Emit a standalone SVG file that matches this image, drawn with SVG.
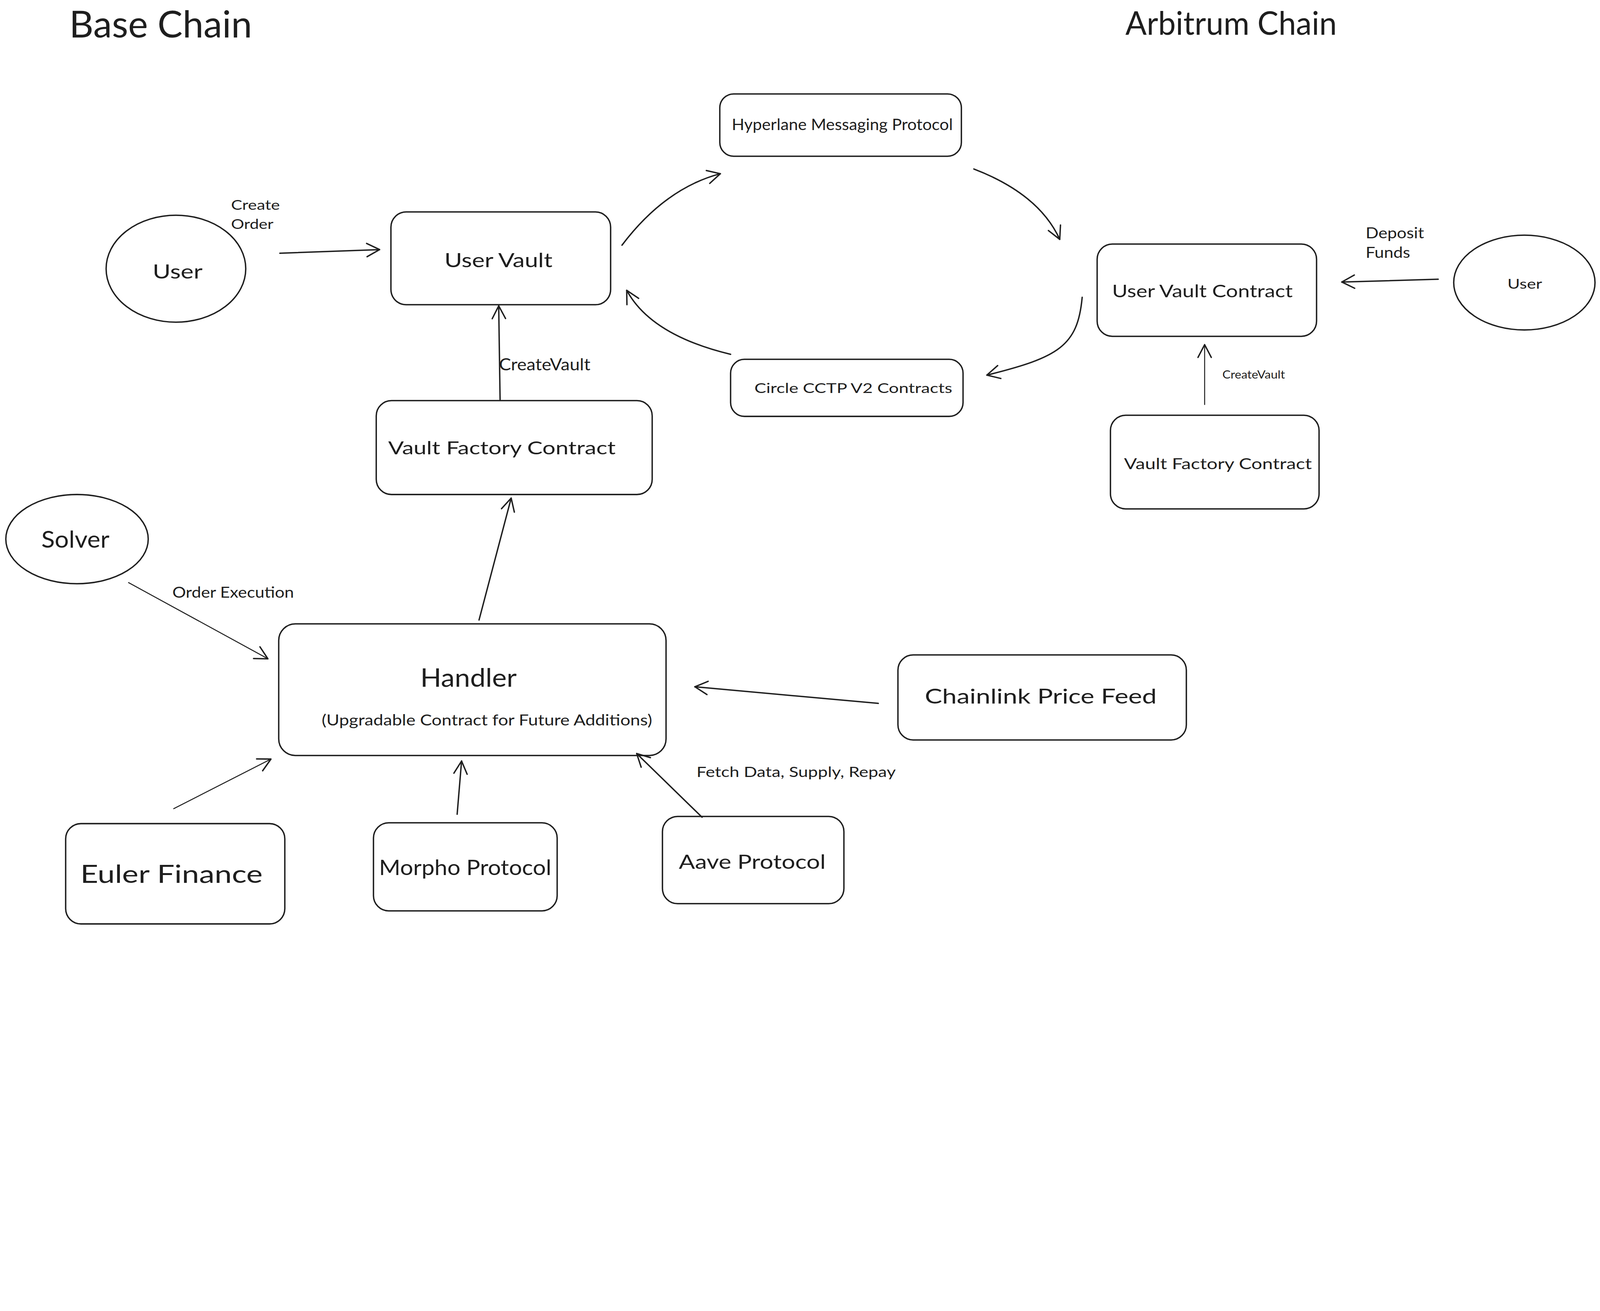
<svg xmlns="http://www.w3.org/2000/svg" width="5775" height="3356" viewBox="0 0 5775 3356">
<style>
svg{max-width:100vw;height:auto}
.box{fill:none;stroke:#1e1e1e;stroke-width:5;stroke-linejoin:round}
.con{fill:none;stroke:#1e1e1e;stroke-width:5;stroke-linecap:round;marker-end:url(#ah)}
.thin{stroke-width:3.5}
text{font-family:Lato,"Liberation Sans","Noto Sans",sans-serif;fill:#1e1e1e}
</style>
<defs>
<marker id="ah" viewBox="-55 -35 70 70" refX="0" refY="0" markerWidth="70" markerHeight="70" markerUnits="userSpaceOnUse" orient="auto" overflow="visible">
<path d="M-46,-24 L0,0 L-46,24" fill="none" stroke="#1e1e1e" stroke-width="5" stroke-linecap="round" stroke-linejoin="round"/>
</marker>
</defs>
<rect width="5775" height="3356" fill="#ffffff"/>

<g id="titles">
<text x="250" y="136" font-size="135" textLength="660" lengthAdjust="spacingAndGlyphs">Base Chain</text>
<text x="4062" y="125" font-size="118" textLength="763" lengthAdjust="spacingAndGlyphs">Arbitrum Chain</text>
</g>

<g id="connectors">
<path id="c-user-vault" class="con" d="M1010 914 L1370 901"/>
<path id="c-vault-hyperlane" class="con" d="M2245 885 Q2400 680 2600 627"/>
<path id="c-hyperlane-uvc" class="con" d="M3515 610 Q3750 700 3825 864"/>
<path id="c-uvc-cctp" class="con" d="M3906 1073 C3890 1250 3820 1290 3562 1354"/>
<path id="c-cctp-vault" class="con" d="M2637 1279 Q2350 1210 2262 1048"/>
<path id="c-factory-vault" class="con" d="M1805 1443 L1800 1104"/>
<path id="c-handler-factory" class="con" d="M1729 2238 L1845 1798"/>
<path id="c-solver-handler" class="con thin" d="M464 2103 L967 2378"/>
<path id="c-euler-handler" class="con thin" d="M627 2919 L978 2740"/>
<path id="c-morpho-handler" class="con" d="M1650 2939 L1666 2747"/>
<path id="c-aave-handler" class="con" d="M2534 2950 L2298 2720"/>
<path id="c-chainlink-handler" class="con" d="M3170 2539 L2508 2479"/>
<path id="c-user2-uvc" class="con" d="M5191 1008 L4843 1018"/>
<path id="c-factory2-uvc" class="con thin" d="M4348 1460 L4348 1244"/>
<text x="834" y="757" font-size="48" textLength="176" lengthAdjust="spacingAndGlyphs">Create</text>
<text x="834" y="826" font-size="48" textLength="153" lengthAdjust="spacingAndGlyphs">Order</text>
<text x="1801" y="1337" font-size="60" textLength="330" lengthAdjust="spacingAndGlyphs">CreateVault</text>
<text x="622" y="2158" font-size="54" textLength="439" lengthAdjust="spacingAndGlyphs">Order Execution</text>
<text x="2514" y="2804" font-size="51" textLength="719" lengthAdjust="spacingAndGlyphs">Fetch Data, Supply, Repay</text>
<text x="4929" y="860" font-size="54" textLength="211" lengthAdjust="spacingAndGlyphs">Deposit</text>
<text x="4929" y="930" font-size="54" textLength="161" lengthAdjust="spacingAndGlyphs">Funds</text>
<text x="4412" y="1366" font-size="40" textLength="226" lengthAdjust="spacingAndGlyphs">CreateVault</text>
</g>

<g id="user-base">
<ellipse class="box" cx="635" cy="970" rx="252" ry="193"/>
<text x="551" y="1006" font-size="72" textLength="180" lengthAdjust="spacingAndGlyphs">User</text>
</g>

<g id="user-vault">
<rect class="box" x="1411" y="765" width="793" height="335" rx="55"/>
<text x="1604" y="964" font-size="72" textLength="390" lengthAdjust="spacingAndGlyphs">User Vault</text>
</g>

<g id="hyperlane">
<rect class="box" x="2598" y="339" width="872" height="225" rx="50"/>
<text x="2641" y="470" font-size="58" textLength="798" lengthAdjust="spacingAndGlyphs">Hyperlane Messaging Protocol</text>
</g>

<g id="cctp">
<rect class="box" x="2637" y="1297" width="839" height="206" rx="50"/>
<text x="2723" y="1418" font-size="50" textLength="714" lengthAdjust="spacingAndGlyphs">Circle CCTP V2 Contracts</text>
</g>

<g id="user-vault-contract">
<rect class="box" x="3960" y="881" width="792" height="333" rx="55"/>
<text x="4014" y="1073" font-size="62" textLength="652" lengthAdjust="spacingAndGlyphs">User Vault Contract</text>
</g>

<g id="user-arb">
<ellipse class="box" cx="5502" cy="1020" rx="255" ry="171"/>
<text x="5441" y="1042" font-size="50" textLength="125" lengthAdjust="spacingAndGlyphs">User</text>
</g>

<g id="vault-factory-arb">
<rect class="box" x="4008" y="1499" width="753" height="338" rx="55"/>
<text x="4057" y="1694" font-size="55" textLength="678" lengthAdjust="spacingAndGlyphs">Vault Factory Contract</text>
</g>

<g id="vault-factory-base">
<rect class="box" x="1358" y="1446" width="996" height="339" rx="55"/>
<text x="1401" y="1640" font-size="66" textLength="821" lengthAdjust="spacingAndGlyphs">Vault Factory Contract</text>
</g>

<g id="solver">
<ellipse class="box" cx="278" cy="1946" rx="257" ry="161"/>
<text x="149" y="1977" font-size="84" textLength="246" lengthAdjust="spacingAndGlyphs">Solver</text>
</g>

<g id="handler">
<rect class="box" x="1006" y="2252" width="1398" height="475" rx="60"/>
<text x="1517" y="2479" font-size="94" textLength="348" lengthAdjust="spacingAndGlyphs">Handler</text>
<text x="1161" y="2619" font-size="55" textLength="1193" lengthAdjust="spacingAndGlyphs">(Upgradable Contract for Future Additions)</text>
</g>

<g id="chainlink">
<rect class="box" x="3241" y="2364" width="1041" height="307" rx="55"/>
<text x="3338" y="2540" font-size="74" textLength="837" lengthAdjust="spacingAndGlyphs">Chainlink Price Feed</text>
</g>

<g id="euler">
<rect class="box" x="237" y="2973" width="791" height="362" rx="55"/>
<text x="290" y="3187" font-size="90" textLength="658" lengthAdjust="spacingAndGlyphs">Euler Finance</text>
</g>

<g id="morpho">
<rect class="box" x="1348" y="2970" width="663" height="318" rx="55"/>
<text x="1368" y="3159" font-size="76" textLength="622" lengthAdjust="spacingAndGlyphs">Morpho Protocol</text>
</g>

<g id="aave">
<rect class="box" x="2391" y="2947" width="655" height="315" rx="55"/>
<text x="2450" y="3136" font-size="72" textLength="530" lengthAdjust="spacingAndGlyphs">Aave Protocol</text>
</g>
</svg>
